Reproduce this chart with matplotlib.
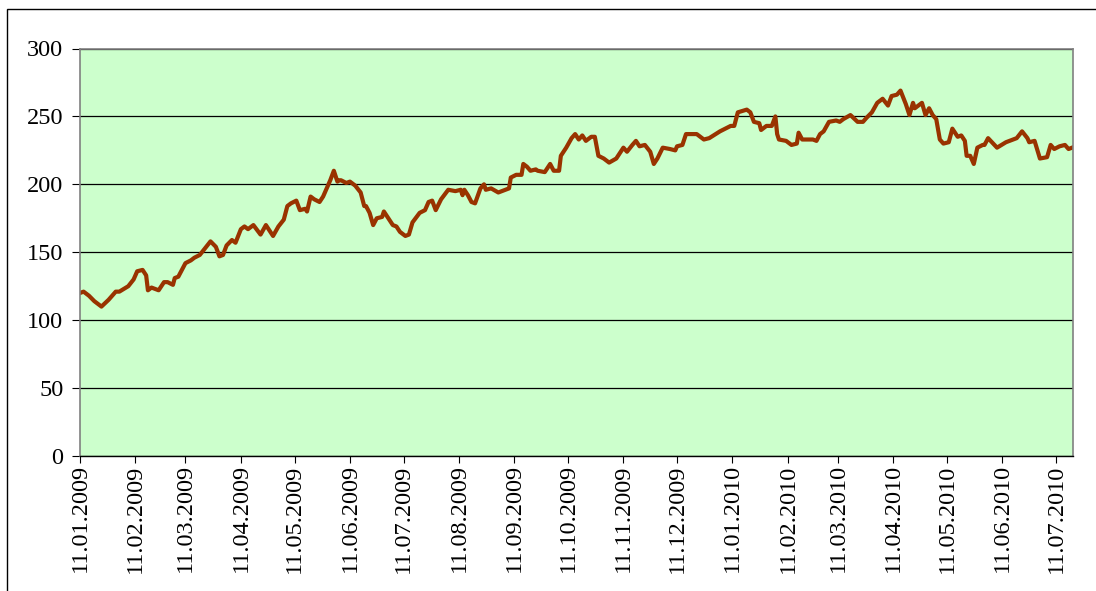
import numpy as np
import pandas as pd
import matplotlib
matplotlib.use('Agg')
import matplotlib.pyplot as plt
from matplotlib.patches import Rectangle

# data: days after 11.01.2009 and the index value
start_date = '11.01.2009'
days = [0, 2, 5, 8, 10, 12, 16, 20, 22, 27, 30, 32, 35, 37, 38, 40, 44, 47, 49, 52,
        53, 55, 59, 62, 64, 67, 70, 73, 76, 78, 80, 82, 85, 87, 90, 92, 94, 97, 101, 104,
        108, 111, 114, 116, 118, 121, 123, 126, 127, 129, 131, 134, 136, 138, 140, 142, 144, 145, 146, 149,
        151, 154, 157, 159, 160, 162, 164, 166, 169, 170, 172, 175, 177, 179, 182, 184, 186, 190, 193, 195,
        197, 199, 202, 206, 210, 213, 214, 215, 217, 219, 221, 224, 226, 227, 230, 234, 238, 240, 241, 244,
        247, 248, 250, 252, 255, 256, 260, 263, 265, 268, 269, 272, 275, 277, 279, 281, 283, 286, 288, 290,
        293, 296, 300, 304, 306, 309, 311, 313, 316, 319, 321, 323, 326, 330, 333, 334, 337, 339, 345, 349,
        352, 358, 364, 366, 368, 373, 375, 377, 380, 381, 384, 387, 389, 390, 391, 395, 398, 401, 402, 404,
        410, 412, 414, 416, 419, 423, 425, 427, 431, 435, 438, 440, 443, 446, 449, 452, 454, 457, 459, 462,
        464, 466, 467, 471, 473, 475, 477, 479, 481, 483, 486, 488, 490, 491, 493, 495, 496, 498, 500, 502,
        505, 506, 508, 513, 518, 522, 524, 527, 530, 531, 534, 537, 541, 543, 545, 548, 551, 553, 555]
values = [120, 121, 118, 114, 112, 110, 115, 121, 121, 125, 130, 136, 137, 133, 122, 124, 122, 128, 128, 126,
          131, 132, 142, 144, 146, 148, 153, 158, 154, 147, 148, 155, 159, 157, 167, 169, 167, 170, 163, 170,
          162, 169, 174, 184, 186, 188, 181, 182, 180, 191, 189, 187, 191, 197, 203, 210, 202, 203, 203, 201,
          202, 199, 194, 184, 184, 179, 170, 175, 176, 180, 176, 170, 169, 165, 162, 163, 172, 179, 181, 187,
          188, 181, 189, 196, 195, 196, 192, 196, 192, 187, 186, 197, 200, 196, 197, 194, 196, 197, 205, 207,
          207, 215, 213, 210, 211, 210, 209, 215, 210, 210, 221, 227, 234, 237, 233, 236, 232, 235, 235, 221,
          219, 216, 219, 227, 224, 229, 232, 228, 229, 224, 215, 219, 227, 226, 225, 228, 229, 237, 237, 233,
          234, 239, 243, 243, 253, 255, 253, 246, 245, 240, 243, 243, 250, 237, 233, 232, 229, 230, 238, 233,
          233, 232, 237, 239, 246, 247, 246, 248, 251, 246, 246, 249, 253, 260, 263, 258, 265, 266, 269, 259,
          251, 260, 256, 260, 251, 256, 251, 248, 233, 230, 231, 241, 237, 235, 236, 232, 221, 221, 215, 227,
          229, 229, 234, 227, 231, 233, 234, 239, 234, 231, 232, 219, 220, 229, 226, 228, 229, 226, 227]
end_day = 555.5

tick_labels = ['11.01.2009', '11.02.2009', '11.03.2009', '11.04.2009', '11.05.2009', '11.06.2009',
               '11.07.2009', '11.08.2009', '11.09.2009', '11.10.2009', '11.11.2009', '11.12.2009',
               '11.01.2010', '11.02.2010', '11.03.2010', '11.04.2010', '11.05.2010', '11.06.2010',
               '11.07.2010']
y_ticks = [0, 50, 100, 150, 200, 250, 300]

t0 = pd.to_datetime(start_date, format='%d.%m.%Y')
dates = t0 + pd.to_timedelta(days, unit='D')
tick_pos = pd.to_datetime(tick_labels, format='%d.%m.%Y')

plt.rcParams['font.family'] = ['Liberation Serif', 'DejaVu Serif']

fig = plt.figure(figsize=(10.96, 5.91), dpi=100)
ax = fig.add_axes([80 / 1096, 1 - 456 / 591, (1073 - 80) / 1096, (456 - 48.5) / 591])

ax.set_facecolor('#ccffcc')
ax.plot(dates, values, color='#993300', lw=3, solid_joinstyle='round')

ax.set_ylim(0, 300)
ax.set_yticks(y_ticks)
ax.set_xlim(t0, t0 + pd.Timedelta(days=end_day))
ax.set_xticks(tick_pos)
ax.set_xticklabels(tick_labels, rotation=90, fontsize=17.5)
ax.tick_params(axis='y', labelsize=17.5, length=6, pad=6, direction='out', color='black')
ax.tick_params(axis='x', length=5, pad=1, direction='out', color='black')
ax.yaxis.grid(True, color='black', lw=0.9)
ax.set_axisbelow(True)

for side in ['left', 'right', 'top']:
    ax.spines[side].set_color('#808080')
    ax.spines[side].set_linewidth(1.2)
ax.spines['bottom'].set_color('black')
ax.spines['bottom'].set_linewidth(1)

# outer chart border
fig.patches.append(Rectangle((7 / 1096, -0.1), 1.2, 1.1 - 9 / 591, transform=fig.transFigure,
                             fill=False, edgecolor='black', lw=1))

fig.savefig('out.png', dpi=100)
